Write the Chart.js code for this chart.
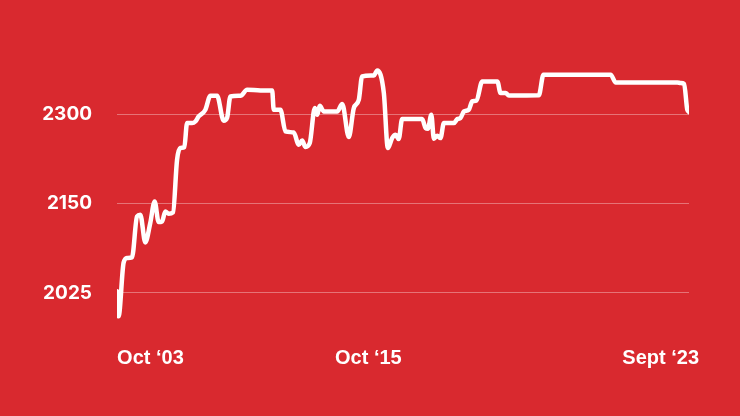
<!DOCTYPE html>
<html>
<head>
<meta charset="utf-8">
<script src="https://cdn.jsdelivr.net/npm/chart.js@4"></script>
<style>
  html, body { margin: 0; padding: 0; background: #d9292f; }
  #wrap { width: 740px; height: 416px; }
</style>
</head>
<body>
<div id="wrap"><canvas id="chart"></canvas></div>
<script>
// rating list index (0..200) and rating
const listIndex = [
  0, 0.56, 2.31, 3.5, 5.25, 7.0, 8.15, 9.9, 11.65, 13.16,
  14.56, 15.75, 16.9, 18.06, 19.6, 21.0, 22.15, 23.55, 24.5, 26.25,
  27.4, 28.55, 30.9, 32.65, 35.0, 37.3, 38.5, 39.65, 43.15, 45.5,
  50.15, 54.25, 54.8, 57.15, 58.9, 61.8, 63.55, 64.75, 65.9, 67.4,
  69.15, 70.0, 70.9, 72.3, 77.0, 78.75, 81.05, 82.8, 84.55, 85.7,
  89.8, 91.0, 93.3, 94.7, 96.2, 97.4, 98.5, 99.7, 106.7, 107.9,
  108.7, 109.9, 110.8, 112.0, 113.1, 114.3, 117.8, 119.0, 120.1, 121.3,
  123.0, 124.2, 125.7, 127.7, 133.0, 134.1, 135.9, 137.0, 147.5, 149.1,
  172.6, 174.4, 195.9, 197.1, 198.3, 199.4, 200
];
const rating = [
  2027.5, 1989.1, 2071.6, 2078.8, 2079.7, 2142.7, 2145.3, 2102.7, 2133.0, 2165.7,
  2134.1, 2135.0, 2150.4, 2146.8, 2148.8, 2229.8, 2247.8, 2249.3, 2286.2, 2286.2,
  2288.6, 2296.3, 2306.6, 2328.1, 2328.1, 2289.7, 2294.3, 2327.0, 2328.1, 2337.3,
  2336.3, 2336.3, 2306.6, 2306.6, 2273.3, 2271.7, 2252.8, 2259.4, 2249.3, 2255.4,
  2309.2, 2298.9, 2312.8, 2304.0, 2304.0, 2315.4, 2264.7, 2309.2, 2322.0, 2357.8,
  2359.3, 2367.0, 2332.3, 2247.8, 2263.1, 2268.2, 2261.6, 2292.3, 2292.3, 2278.5,
  2277.4, 2298.9, 2262.1, 2266.7, 2263.1, 2286.2, 2286.2, 2292.3, 2293.9, 2304.0,
  2306.6, 2319.4, 2320.9, 2350.1, 2350.1, 2332.3, 2332.3, 2328.6, 2328.9, 2360.4,
  2360.4, 2348.5, 2348.5, 2347.6, 2346.5, 2306.6, 2303.1
];

const xTickValues = [11.7, 87.9, 190.1];
const xTickLabels = ['Oct \u201803', 'Oct \u201815', 'Sept \u201823'];
const yTickValues = [2025, 2162.5, 2300];
const yTickLabels = ['2025', '2150', '2300'];

const BG = '#d9292f';

// paint the red background behind everything
const bgPlugin = {
    id: 'bg',
    beforeDraw(chart) {
        const ctx = chart.ctx;
        ctx.save();
        ctx.fillStyle = BG;
        ctx.fillRect(0, 0, chart.width, chart.height);
        ctx.restore();
    }
};

const points = listIndex.map((x, i) => ({ x: x, y: rating[i] }));

new Chart(document.getElementById('chart'), {
    type: 'line',
    data: {
        datasets: [{
            data: points,
            borderColor: '#ffffff',
            borderWidth: 4.5,
            pointRadius: 0,
            fill: false,
            tension: 0.4,
            cubicInterpolationMode: 'monotone',
            borderCapStyle: 'round',
            borderJoinStyle: 'round'
        }]
    },
    options: {
        responsive: true,
        maintainAspectRatio: false,
        animation: false,
        layout: { padding: { top: 62, right: 51, bottom: 0, left: 0 } },
        plugins: { legend: { display: false }, tooltip: { enabled: false } },
        scales: {
            x: {
                type: 'linear',
                min: 0,
                max: 200,
                afterBuildTicks: s => { s.ticks = xTickValues.map(v => ({ value: v })); },
                afterFit: s => { s.height = 97; },
                grid: { display: false, drawTicks: false },
                border: { display: false },
                ticks: {
                    color: '#ffffff',
                    padding: 27,
                    maxRotation: 0,
                    font: { family: 'Liberation Sans', weight: 'bold', size: 20 },
                    callback: (v, i) => xTickLabels[i]
                }
            },
            y: {
                min: 1985,
                max: 2380,
                afterBuildTicks: s => { s.ticks = yTickValues.map(v => ({ value: v })); },
                afterFit: s => { s.width = 117; },
                grid: { color: 'rgba(255,255,255,0.35)', lineWidth: 1, drawTicks: false },
                border: { display: false },
                ticks: {
                    color: '#ffffff',
                    padding: 25,
                    font: { family: 'Inter', weight: 'bold', size: 19 },
                    callback: (v, i) => yTickLabels[i]
                }
            }
        }
    },
    plugins: [bgPlugin]
});
</script>
</body>
</html>
